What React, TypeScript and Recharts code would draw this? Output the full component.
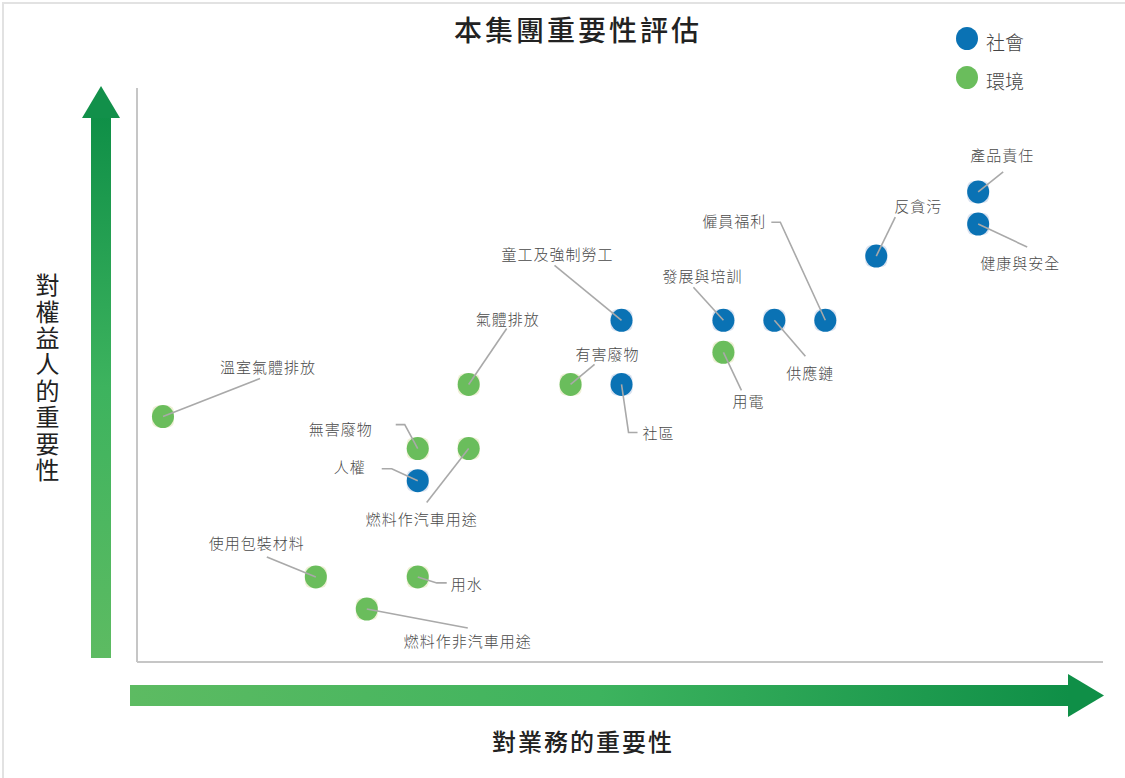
import React from "react";
import { ScatterChart, Scatter, XAxis, YAxis, Legend } from "recharts";

const socialNames = ["產品責任", "健康與安全", "反貪污", "僱員福利", "供應鏈", "發展與培訓", "童工及強制勞工", "社區", "人權"];
const socialX = [17, 17, 15, 14, 13, 12, 10, 10, 6];
const socialY = [14, 13, 12, 10, 10, 10, 10, 8, 5];

const envNames = ["用電", "有害廢物", "氣體排放", "溫室氣體排放", "無害廢物", "燃料作汽車用途", "使用包裝材料", "用水", "燃料作非汽車用途"];
const envX = [12, 9, 7, 1, 6, 7, 4, 6, 5];
const envY = [9, 8, 8, 7, 6, 6, 2, 2, 1];

const seriesNames = ["社會", "環境"];
const title = "本集團重要性評估";
const xTitle = "對業務的重要性";
const yTitle = "對權益人的重要性";

const BLUE = "#0a72b4";
const GREEN = "#6abd5c";
const FONT = "'Noto Sans CJK TC', 'Noto Sans CJK SC', sans-serif";

// label placement (offsets from each point's centre), layout only
const labelLayout: Record<string, { t: [number, number]; p: [number, number][] }> = {
  產品責任: { t: [24, -37], p: [[25, -20]] },
  健康與安全: { t: [42, 38], p: [[49, 23]] },
  反貪污: { t: [42, -51], p: [[19, -39]] },
  僱員福利: { t: [-91, -100], p: [[-45, -98], [-54, -98]] },
  供應鏈: { t: [36, 52], p: [[31, 36]] },
  發展與培訓: { t: [-21, -45], p: [[-30, -33]] },
  童工及強制勞工: { t: [-64, -67], p: [[-67, -55]] },
  社區: { t: [37, 48], p: [[7, 48], [16, 48]] },
  人權: { t: [-68, -14], p: [[-26, -12], [-36, -12]] },
  用電: { t: [25, 48], p: [[18, 38]] },
  有害廢物: { t: [37, -31], p: [[24, -20]] },
  氣體排放: { t: [39, -66], p: [[38, -56]] },
  溫室氣體排放: { t: [105, -50], p: [[97, -38]] },
  無害廢物: { t: [-77, -20], p: [[-13, -24], [-22, -24]] },
  燃料作汽車用途: { t: [-47, 70], p: [[-42, 54]] },
  使用包裝材料: { t: [-59, -34], p: [[-49, -20]] },
  用水: { t: [49, 7], p: [[19, 6], [29, 6]] },
  燃料作非汽車用途: { t: [101, 31], p: [[101, 19]] },
};

const socialData = socialNames.map((name, i) => ({ name, x: socialX[i], y: socialY[i] }));
const envData = envNames.map((name, i) => ({ name, x: envX[i], y: envY[i] }));

const makeShape = (color: string, corner: string) => (props: any) => {
  const { cx, cy, payload } = props;
  if (cx == null || cy == null) return <g />;
  const lay = labelLayout[payload.name];
  const pts = lay ? [[0, 0], ...lay.p].map(([dx, dy]) => `${cx + dx},${cy + dy}`).join(" ") : "";
  return (
    <g>
      <rect x={cx - 11} y={cy - 11} width={22} height={22} rx={6} fill={corner} />
      <ellipse cx={cx} cy={cy} rx={11} ry={11.5} fill={color} />
      {lay && <polyline points={pts} fill="none" stroke="#a9a9a9" strokeWidth={1.6} />}
      {lay && (
        <text
          x={cx + lay.t[0]}
          y={cy + lay.t[1]}
          textAnchor="middle"
          dominantBaseline="central"
          fontFamily={FONT}
          fontSize={15}
          fontWeight={300}
          letterSpacing={1}
          fill="#4a4a4a"
        >
          {payload.name}
        </text>
      )}
    </g>
  );
};

const LegendContent = () => (
  <div style={{ fontFamily: FONT, color: "#444" }}>
    {[BLUE, GREEN].map((c, i) => (
      <div key={i} style={{ display: "flex", alignItems: "center", height: 39 }}>
        <div style={{ width: 22, height: 23, borderRadius: "50%", background: c, marginRight: 8 }} />
        <span style={{ fontSize: 19, fontWeight: 300, marginTop: 6 }}>{seriesNames[i]}</span>
      </div>
    ))}
  </div>
);

export default function App() {
  return (
    <div style={{ position: "relative", width: 1125, height: 778, background: "#fff" }}>
      <style>{`body{margin:0}`}</style>
      <svg width={1125} height={778} style={{ position: "absolute", left: 0, top: 0 }}>
        <defs>
          <linearGradient id="gy" x1="0" y1="1" x2="0" y2="0">
            <stop offset="0%" stopColor="#5dbb62" />
            <stop offset="50%" stopColor="#3db35e" />
            <stop offset="100%" stopColor="#0f8f47" />
          </linearGradient>
          <linearGradient id="gx" x1="0" y1="0" x2="1" y2="0">
            <stop offset="0%" stopColor="#5dbb62" />
            <stop offset="50%" stopColor="#3db35e" />
            <stop offset="100%" stopColor="#0f8f47" />
          </linearGradient>
        </defs>
        <rect x={3} y={3} width={1130} height={790} fill="none" stroke="#e2e2e2" strokeWidth={2} />
        <rect x={91} y={116} width={20} height={542} fill="url(#gy)" />
        <polygon points="82,118 120,118 101,86" fill="#12904a" />
        <rect x={130} y={685} width={940} height={21} fill="url(#gx)" />
        <polygon points="1068,674 1068,717 1104,695.5" fill="#0f8f47" />
        <text x={578} y={29} textAnchor="middle" dominantBaseline="central" fontFamily={FONT} fontSize={28} fontWeight={500} letterSpacing={3} fill="#222">
          {title}
        </text>
        <text x={583} y={740} textAnchor="middle" dominantBaseline="central" fontFamily={FONT} fontSize={24} fontWeight={500} letterSpacing={2} fill="#222">
          {xTitle}
        </text>
        <text
          x={47.5}
          y={273}
          fontFamily={FONT}
          fontSize={24}
          fontWeight={400}
          letterSpacing={2.4}
          fill="#222"
          style={{ writingMode: "vertical-rl" }}
        >
          {yTitle}
        </text>
      </svg>
      <div style={{ position: "absolute", left: 0, top: 0 }}>
        <ScatterChart width={1125} height={778} margin={{ top: 88, right: 22, bottom: 115, left: 136 }}>
          <XAxis
            type="number"
            dataKey="x"
            domain={[0.49, 19.45]}
            allowDataOverflow
            tick={false}
            tickLine={false}
            height={1}
            axisLine={{ stroke: "#c6c6c6", strokeWidth: 2 }}
          />
          <YAxis
            type="number"
            dataKey="y"
            domain={[-0.652, 17.24]}
            allowDataOverflow
            tick={false}
            tickLine={false}
            width={1}
            axisLine={{ stroke: "#c6c6c6", strokeWidth: 2 }}
          />
          <Legend
            layout="horizontal"
            verticalAlign="middle"
            align="center"
            content={<LegendContent />}
            wrapperStyle={{ position: "absolute", left: 956, top: 19, width: 120 }}
          />
          <Scatter name={seriesNames[0]} data={socialData} fill={BLUE} shape={makeShape(BLUE, "#d9e2f0")} isAnimationActive={false} />
          <Scatter name={seriesNames[1]} data={envData} fill={GREEN} shape={makeShape(GREEN, "#eef0d6")} isAnimationActive={false} />
        </ScatterChart>
      </div>
    </div>
  );
}
